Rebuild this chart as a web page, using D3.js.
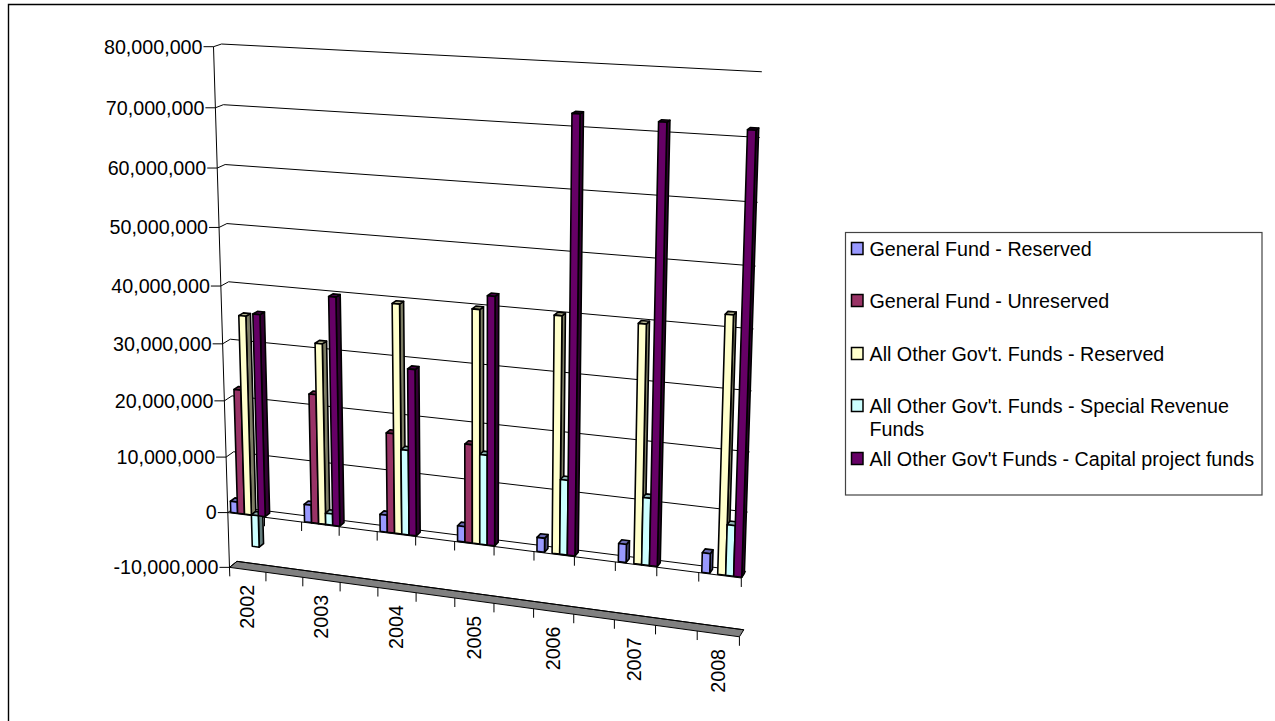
<!DOCTYPE html>
<html>
<head>
<meta charset="utf-8">
<script src="https://cdn.jsdelivr.net/npm/d3@7"></script>
<style>
  html, body { margin: 0; padding: 0; background: #fff; }
  svg { display: block; }
  text { font-family: "Liberation Sans", Arial, sans-serif; fill: #000; }
</style>
</head>
<body>
<div id="chart"></div>
<script>
const years = ["2002", "2003", "2004", "2005", "2006", "2007", "2008"];
const seriesNames = [
    "General Fund - Reserved",
    "General Fund - Unreserved",
    "All Other Gov't. Funds - Reserved",
    "All Other Gov't. Funds - Special Revenue Funds",
    "All Other Gov't Funds - Capital project funds"
];
const seriesColors = ["#9999ff", "#993366", "#ffffcc", "#ccffff", "#660066"];

const generalReserved = [2000000, 3100000, 3000000, 2700000, 2400000, 3100000, 3300000];
const generalUnreserved = [22100000, 22700000, 17400000, 17000000, 0, 0, 0];
const otherReserved = [35100000, 31600000, 39600000, 39900000, 40100000, 40000000, 42700000];
const otherSpecial = [-5700000, 2000000, 14800000, 15500000, 12800000, 11400000, 8500000];
const otherCapital = [35600000, 39800000, 28800000, 42300000, 72500000, 72000000, 71600000];
const seriesValues = [generalReserved, generalUnreserved, otherReserved, otherSpecial, otherCapital];

const valueTicks = [-10000000, 0, 10000000, 20000000, 30000000, 40000000, 50000000, 60000000, 70000000, 80000000];

const svgWidth = 1275, svgHeight = 721;
const fontSize = 19.7;

// plot box coordinates (u along categories, v up the value axis, w into the depth)
// paired with where they land on the page; the camera matrix is fitted from these
const calibration = [
    [0, 1, 0, 213.3, 47], [0, 80 / 90, 0, 215.5, 107.5], [0, 50 / 90, 0, 221, 285],
    [0, 10 / 90, 0, 228, 513], [0, 0, 0, 229.5, 567.5],
    [0, 1, 1, 221.7, 44.3], [0, 80 / 90, 1, 223, 105], [0, 10 / 90, 1, 235, 507], [0, 0, 1, 237, 561],
    [1, 1, 1, 762, 72], [1, 80 / 90, 1, 760, 137], [1, 50 / 90, 1, 753, 329], [1, 10 / 90, 1, 746, 572], [1, 0, 1, 744, 629],
    [1, 10 / 90, 0, 741, 578], [1, 0, 0, 739, 637], [6 / 13, 10 / 90, 0, 455, 541.7]
];

// least squares fit of the 11 projection parameters through the normal equations
function fit_camera(points) {
    const n = 11;
    const ata = d3.range(n).map(() => new Array(n + 1).fill(0));
    const addRow = (row, rhs) => {
        for (let i = 0; i < n; i++) {
            for (let j = 0; j < n; j++) ata[i][j] += row[i] * row[j];
            ata[i][n] += row[i] * rhs;
        }
    };
    points.forEach(([u, v, w, x, y]) => {
        addRow([1, u, v, w, 0, 0, 0, 0, -x * u, -x * v, -x * w], x);
        addRow([0, 0, 0, 0, 1, u, v, w, -y * u, -y * v, -y * w], y);
    });
    for (let c = 0; c < n; c++) {
        let pivot = c;
        for (let r = c + 1; r < n; r++) {
            if (Math.abs(ata[r][c]) > Math.abs(ata[pivot][c])) pivot = r;
        }
        [ata[c], ata[pivot]] = [ata[pivot], ata[c]];
        for (let r = 0; r < n; r++) {
            if (r === c) continue;
            const f = ata[r][c] / ata[c][c];
            for (let k = c; k <= n; k++) ata[r][k] -= f * ata[c][k];
        }
    }
    return ata.map((row, i) => row[n] / row[i]);
}

const cam = fit_camera(calibration);

function project(u, v, w) {
    const d = 1 + cam[8] * u + cam[9] * v + cam[10] * w;
    return [
        (cam[0] + cam[1] * u + cam[2] * v + cam[3] * w) / d,
        (cam[4] + cam[5] * u + cam[6] * v + cam[7] * w) / d
    ];
}

const xBand = d3.scaleBand().domain(years).range([0, 1]).paddingInner(0.5).paddingOuter(0);
// columns sit slightly in from the left tick of their group
const xSeries = d3.scaleBand().domain(seriesNames).range([xBand.bandwidth() * 0.06, xBand.bandwidth()]);
const yScale = d3.scaleLinear().domain([-10000000, 80000000]).range([0, 1]);
const barFront = 0.1, barBack = 0.7;

const line = d3.line();
// plain hyphen for negatives rather than d3's typographic minus
const formatValue = d => d3.format(",")(d).replace("\u2212", "-");

const svg = d3.select("#chart")
    .append("svg")
    .attr("width", svgWidth)
    .attr("height", svgHeight);

// outer frame, only the top and left edges fall inside the window
svg.append("path")
    .attr("d", `M8.5,${svgHeight}V4.5H${svgWidth}`)
    .attr("fill", "none")
    .attr("stroke", "#000")
    .attr("stroke-width", 1.4);

function draw_walls(g) {
    const v0 = yScale(0);

    // floor slab at the bottom of the value axis
    g.append("path")
        .attr("d", line([project(0, 0, 0), project(0, 0, 1), project(1, 0, 1), project(1, 0, 0)]) + "Z")
        .attr("fill", "#808080")
        .attr("stroke", "#000")
        .attr("stroke-width", 1);

    // gridlines: tick, then along the side wall, then along the back wall
    valueTicks.forEach(t => {
        const v = yScale(t);
        const a = project(0, v, 0);
        const pts = [[a[0] - 10, a[1]], a, project(0, v, 1), project(1, v, 1)];
        g.append("path")
            .attr("d", line(pts))
            .attr("fill", "none")
            .attr("stroke", "#000")
            .attr("stroke-width", 1);
        g.append("text")
            .attr("x", a[0] - 11)
            .attr("y", a[1])
            .attr("dy", "0.35em")
            .attr("text-anchor", "end")
            .style("font-size", fontSize + "px")
            .text(formatValue(t));
    });

    // value axis runs a little past the floor
    const top = project(0, 1, 0), bottom = project(0, 0, 0);
    g.append("path")
        .attr("d", line([top, bottom, [bottom[0] + 0.3, bottom[1] + 9]]))
        .attr("fill", "none")
        .attr("stroke", "#000");

    // category axis on the zero plane, closing back to the wall at the right
    g.append("path")
        .attr("d", line([project(0, v0, 0), project(1, v0, 0), project(1, v0, 1)]))
        .attr("fill", "none")
        .attr("stroke", "#000");

    // ticks at both ends of every group, on the zero plane and under the floor
    d3.range(1, 14).forEach(k => {
        const u = k / 13;
        [v0, 0].forEach(v => {
            const p = project(u, v, 0);
            g.append("path")
                .attr("d", line([p, [p[0], p[1] + 9]]))
                .attr("fill", "none")
                .attr("stroke", "#000");
        });
    });

    years.forEach(y => {
        const u = xBand(y) + xBand.bandwidth() / 2;
        const p = project(u, 0, 0);
        g.append("text")
            .attr("transform", `translate(${p[0] - 0.5}, ${p[1] + 15}) rotate(-90)`)
            .attr("dy", "0.35em")
            .attr("text-anchor", "end")
            .style("font-size", fontSize + "px")
            .text(y);
    });
}

function add_face(g, pts, fill) {
    g.append("path")
        .attr("d", line(pts) + "Z")
        .attr("fill", fill)
        .attr("stroke", "#000")
        .attr("stroke-width", 1.6)
        .attr("stroke-linejoin", "round");
}

// one column: front face, right side and top, shaded like lit 3D bars
function add_bar(g, year, name, i, value) {
    if (!value) return;
    const u0 = xBand(year) + xSeries(name);
    const u1 = u0 + xSeries.bandwidth();
    const vLow = yScale(Math.min(0, value));
    const vHigh = yScale(Math.max(0, value));
    const base = d3.color(seriesColors[i]);
    const side = base.darker(2).formatHex();
    const cap = base.darker(1).formatHex();

    add_face(g, [project(u1, vLow, barFront), project(u1, vLow, barBack), project(u1, vHigh, barBack), project(u1, vHigh, barFront)], side);
    add_face(g, [project(u0, vHigh, barFront), project(u1, vHigh, barFront), project(u1, vHigh, barBack), project(u0, vHigh, barBack)], cap);
    add_face(g, [project(u0, vLow, barFront), project(u1, vLow, barFront), project(u1, vHigh, barFront), project(u0, vHigh, barFront)], seriesColors[i]);
}

function draw_bars(g) {
    years.forEach((y, yi) => {
        seriesNames.forEach((name, i) => add_bar(g, y, name, i, seriesValues[i][yi]));
    });
}

function draw_legend(g) {
    g.append("rect")
        .attr("x", 845.5)
        .attr("y", 232.5)
        .attr("width", 416.5)
        .attr("height", 262.5)
        .attr("fill", "#fff")
        .attr("stroke", "#444")
        .attr("stroke-width", 1.2);

    const baselines = [255, 307, 360, 412, 465];
    seriesNames.forEach((name, i) => {
        const y = baselines[i];
        g.append("rect")
            .attr("x", 851.5)
            .attr("y", y - 12.5)
            .attr("width", 11.5)
            .attr("height", 12)
            .attr("fill", seriesColors[i])
            .attr("stroke", "#000")
            .attr("stroke-width", 1.5);
        // the long entry wraps just before its last word
        const lines = name.endsWith("Revenue Funds")
            ? [name.slice(0, -6), "Funds"]
            : [name];
        lines.forEach((t, k) => {
            g.append("text")
                .attr("x", 869.5)
                .attr("y", y + 0.5 + k * 23)
                .style("font-size", fontSize + "px")
                .text(t);
        });
    });
}

draw_walls(svg.append("g"));
draw_bars(svg.append("g"));
draw_legend(svg.append("g"));
</script>
</body>
</html>
